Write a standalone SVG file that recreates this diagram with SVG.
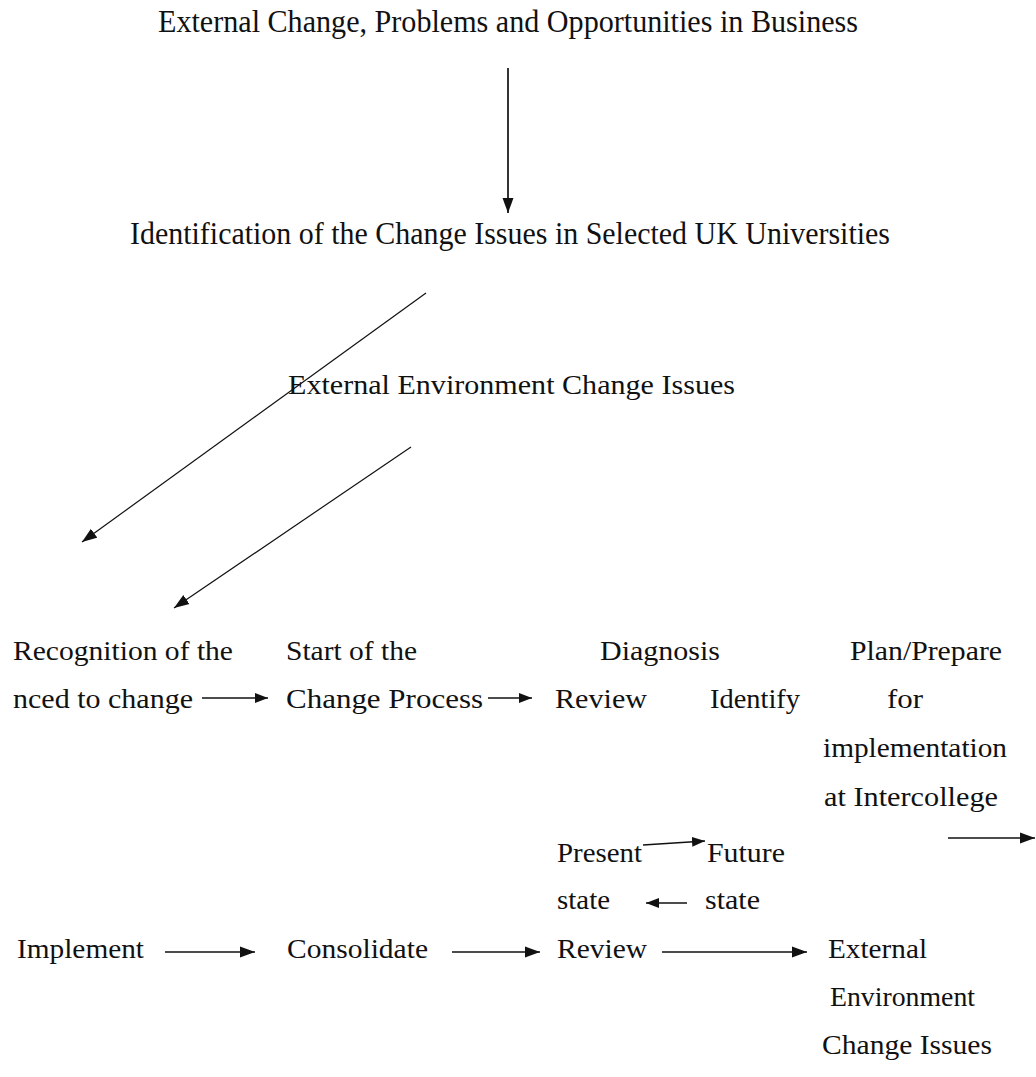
<svg xmlns="http://www.w3.org/2000/svg" width="1036" height="1077" viewBox="0 0 1036 1077">
<style>
  text { font-family: "Liberation Serif", "Times New Roman", serif; fill: #111; }
  .t { font-size: 31px; }
  .r { font-size: 28px; }
  .c { stroke: #111; stroke-width: 1.7; fill: none; }
  .d { stroke: #111; stroke-width: 1.2; fill: none; }
</style>
<defs>
  <marker id="ah" markerUnits="userSpaceOnUse" markerWidth="16" markerHeight="12" refX="15" refY="6" orient="auto">
    <path d="M0,0.5 L15,6 L0,11.5 Z" fill="#111"/>
  </marker>
  <marker id="ahs" markerUnits="userSpaceOnUse" markerWidth="14" markerHeight="11" refX="13" refY="5.5" orient="auto">
    <path d="M0,0.5 L13,5.5 L0,10.5 Z" fill="#111"/>
  </marker>
</defs>
<rect width="1036" height="1077" fill="#fff"/>

<g id="connectors">
  <line class="c" x1="508" y1="68" x2="508" y2="213" marker-end="url(#ah)"/>
  <line class="d" x1="426" y1="293" x2="82" y2="542" marker-end="url(#ah)"/>
  <line class="d" x1="411" y1="447" x2="174" y2="608" marker-end="url(#ah)"/>
  <line class="c" x1="202" y1="698" x2="268" y2="698" marker-end="url(#ahs)"/>
  <line class="c" x1="488" y1="698" x2="532" y2="698" marker-end="url(#ahs)"/>
  <line class="c" x1="948" y1="838" x2="1035" y2="838" marker-end="url(#ah)"/>
  <line class="c" x1="643" y1="845" x2="705" y2="841" marker-end="url(#ahs)"/>
  <line class="c" x1="687" y1="903" x2="646" y2="903" marker-end="url(#ahs)"/>
  <line class="c" x1="165" y1="952" x2="255" y2="952" marker-end="url(#ah)"/>
  <line class="c" x1="452" y1="952" x2="540" y2="952" marker-end="url(#ah)"/>
  <line class="c" x1="662" y1="952" x2="807" y2="952" marker-end="url(#ah)"/>
</g>

<g id="n-external-change"><text class="t" x="158" y="32" textLength="700" lengthAdjust="spacingAndGlyphs">External Change, Problems and Opportunities in Business</text></g>
<g id="n-identification"><text class="t" x="130" y="244" textLength="760" lengthAdjust="spacingAndGlyphs">Identification of the Change Issues in Selected UK Universities</text></g>
<g id="n-external-env"><text class="r" x="288" y="394" textLength="447" lengthAdjust="spacingAndGlyphs">External Environment Change Issues</text></g>

<g id="n-recognition">
  <text class="r" x="13" y="660" textLength="220" lengthAdjust="spacingAndGlyphs">Recognition of the</text>
  <text class="r" x="13" y="708" textLength="180" lengthAdjust="spacingAndGlyphs">nced to change</text>
</g>
<g id="n-start">
  <text class="r" x="286" y="660" textLength="131" lengthAdjust="spacingAndGlyphs">Start of the</text>
  <text class="r" x="286" y="708" textLength="197" lengthAdjust="spacingAndGlyphs">Change Process</text>
</g>
<g id="n-diagnosis">
  <text class="r" x="600" y="660" textLength="120" lengthAdjust="spacingAndGlyphs">Diagnosis</text>
  <text class="r" x="555" y="708" textLength="92" lengthAdjust="spacingAndGlyphs">Review</text>
  <text class="r" x="710" y="708" textLength="90" lengthAdjust="spacingAndGlyphs">Identify</text>
</g>
<g id="n-plan">
  <text class="r" x="850" y="660" textLength="152" lengthAdjust="spacingAndGlyphs">Plan/Prepare</text>
  <text class="r" x="887" y="708" textLength="36" lengthAdjust="spacingAndGlyphs">for</text>
  <text class="r" x="823" y="757" textLength="184" lengthAdjust="spacingAndGlyphs">implementation</text>
  <text class="r" x="824" y="806" textLength="174" lengthAdjust="spacingAndGlyphs">at Intercollege</text>
</g>
<g id="n-present">
  <text class="r" x="557" y="862" textLength="85" lengthAdjust="spacingAndGlyphs">Present</text>
  <text class="r" x="557" y="909" textLength="53" lengthAdjust="spacingAndGlyphs">state</text>
</g>
<g id="n-future">
  <text class="r" x="707" y="862" textLength="78" lengthAdjust="spacingAndGlyphs">Future</text>
  <text class="r" x="705" y="909" textLength="55" lengthAdjust="spacingAndGlyphs">state</text>
</g>
<g id="n-implement"><text class="r" x="17" y="958" textLength="127" lengthAdjust="spacingAndGlyphs">Implement</text></g>
<g id="n-consolidate"><text class="r" x="287" y="958" textLength="141" lengthAdjust="spacingAndGlyphs">Consolidate</text></g>
<g id="n-review"><text class="r" x="557" y="958" textLength="90" lengthAdjust="spacingAndGlyphs">Review</text></g>
<g id="n-external-env-2">
  <text class="r" x="828" y="958" textLength="99" lengthAdjust="spacingAndGlyphs">External</text>
  <text class="r" x="830" y="1006" textLength="145" lengthAdjust="spacingAndGlyphs">Environment</text>
  <text class="r" x="822" y="1054" textLength="170" lengthAdjust="spacingAndGlyphs">Change Issues</text>
</g>
</svg>
